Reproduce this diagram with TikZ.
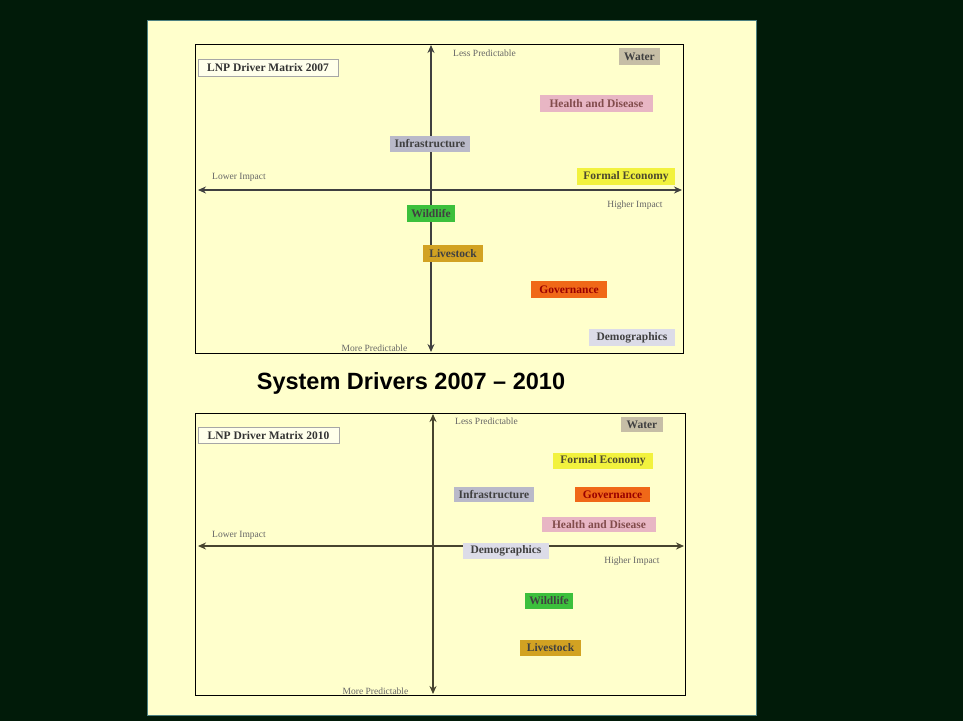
\documentclass[tikz,border=0pt]{standalone}
\usepackage{fontspec}
\setmainfont{Liberation Serif}
\newfontfamily\headfont[Ligatures=TeX]{Liberation Sans}
\usetikzlibrary{arrows.meta,positioning}
\definecolor{slidebg}{HTML}{011B09}
\definecolor{panelbg}{HTML}{FFFFCC}
\definecolor{waterc}{HTML}{C6BEA6}
\definecolor{healthc}{HTML}{E8B6C4}
\definecolor{infrac}{HTML}{B9B9C9}
\definecolor{econc}{HTML}{F2F23E}
\definecolor{wildc}{HTML}{3CC03C}
\definecolor{stockc}{HTML}{D2A222}
\definecolor{govc}{HTML}{F06818}
\definecolor{democ}{HTML}{DCDCE8}
\tikzset{
    driver/.style={inner sep=0pt, font=\fontsize{11.5}{12}\selectfont\bfseries, text=black!75},
    matrixtitle/.style={draw=gray!70, line width=0.8pt, fill=panelbg!40, inner sep=0pt, font=\fontsize{11.5}{12}\selectfont\bfseries, text=black!80},
    axislabel/.style={inner sep=0pt, font=\fontsize{9.5}{10}\selectfont, text=black!60},
    axisline/.style={{Stealth[length=8pt,width=7pt]}-{Stealth[length=8pt,width=7pt]}, line width=2pt, draw=black!75},
    frame/.style={draw=black, line width=1pt}
}

\begin{document}
\begin{tikzpicture}[x=1pt, y=-1pt]
    % slide and panel
    \fill[slidebg] (0,0) rectangle (963,721);
    \useasboundingbox (0,0) rectangle (963,721);
    \filldraw[fill=panelbg, draw=teal!40!gray, line width=0.8pt] (147,20) rectangle (756,715);

    % 2007 matrix
    \draw[frame] (195,44) rectangle (683,353);
    \coordinate (t07) at (431,45);
    \coordinate (b07) at (431,352);
    \coordinate (l07) at (198,190);
    \coordinate (r07) at (682,190);
    \draw[axisline] (b07) -- (t07);
    \draw[axisline] (l07) -- (r07);
    \node[matrixtitle, minimum width=140pt, minimum height=17pt] (title07) at (268,67.5) {LNP Driver Matrix 2007};
    \node[axislabel, anchor=west] (less07) at (453,53) {Less Predictable};
    \node[axislabel, anchor=west] (lower07) at (212,177) {Lower Impact};
    \node[axislabel] (higher07) at (635,205) {Higher Impact};
    \node[axislabel] (more07) at (374.5,348) {More Predictable};
    \node[driver, fill=waterc, minimum width=41pt, minimum height=17pt] (water07) at (639.5,56.5) {Water};
    \node[driver, fill=healthc, minimum width=113pt, minimum height=17pt, text=red!30!black!70] (health07) at (596.5,103.5) {Health and Disease};
    \node[driver, fill=infrac, minimum width=80pt, minimum height=16pt] (infra07) at (430,144) {Infrastructure};
    \node[driver, fill=econc, minimum width=98pt, minimum height=17pt, text=olive!40!black] (econ07) at (626,176.5) {Formal Economy};
    \node[driver, fill=wildc, minimum width=48pt, minimum height=17pt] (wild07) at (431,213.5) {Wildlife};
    \node[driver, fill=stockc, minimum width=60pt, minimum height=17pt] (stock07) at (453,253.5) {Livestock};
    \node[driver, fill=govc, minimum width=76pt, minimum height=17pt, text=red!60!black] (gov07) at (569,289.5) {Governance};
    \node[driver, fill=democ, minimum width=86pt, minimum height=17pt] (demo07) at (632,337.5) {Demographics};

    % heading
    \node[font=\headfont\bfseries\fontsize{23.5}{26}\selectfont, inner sep=0pt, anchor=base] (heading) at (411,389) {System Drivers 2007 -- 2010};

    % 2010 matrix
    \draw[frame] (195,413) rectangle (685,695);
    \coordinate (t10) at (433,414);
    \coordinate (b10) at (433,694);
    \coordinate (l10) at (198,546);
    \coordinate (r10) at (684,546);
    \draw[axisline, draw=black!65!olive] (b10) -- (t10);
    \draw[axisline, draw=black!65!olive] (l10) -- (r10);
    \node[matrixtitle, minimum width=141pt, minimum height=16pt] (title10) at (268.5,435.5) {LNP Driver Matrix 2010};
    \node[axislabel, anchor=west] (less10) at (455,421) {Less Predictable};
    \node[axislabel, anchor=west] (lower10) at (212,535) {Lower Impact};
    \node[axislabel] (higher10) at (632,561) {Higher Impact};
    \node[axislabel] (more10) at (375.5,691) {More Predictable};
    \node[driver, fill=waterc, minimum width=42pt, minimum height=15pt] (water10) at (642,424.5) {Water};
    \node[driver, fill=econc, minimum width=100pt, minimum height=16pt, text=olive!40!black] (econ10) at (603,461) {Formal Economy};
    \node[driver, fill=infrac, minimum width=80pt, minimum height=15pt] (infra10) at (494,494.5) {Infrastructure};
    \node[driver, fill=govc, minimum width=75pt, minimum height=15pt, text=red!60!black] (gov10) at (612.5,494.5) {Governance};
    \node[driver, fill=healthc, minimum width=114pt, minimum height=15pt, text=red!30!black!70] (health10) at (599,524.5) {Health and Disease};
    \node[driver, fill=democ, minimum width=86pt, minimum height=16pt] (demo10) at (506,551) {Demographics};
    \node[driver, fill=wildc, minimum width=48pt, minimum height=16pt] (wild10) at (549,601) {Wildlife};
    \node[driver, fill=stockc, minimum width=61pt, minimum height=16pt] (stock10) at (550.5,648) {Livestock};
\end{tikzpicture}
\end{document}
